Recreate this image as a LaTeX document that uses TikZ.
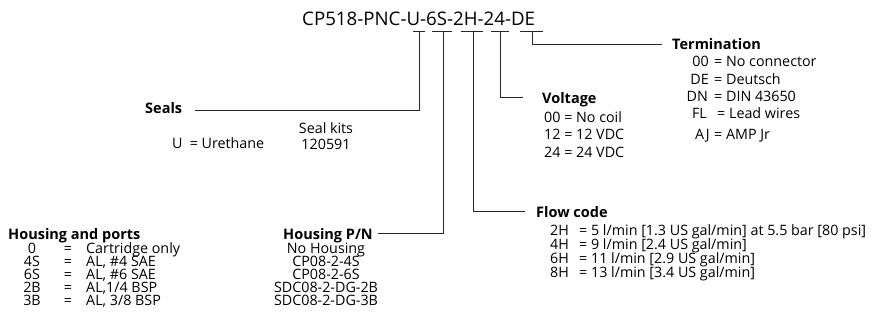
\documentclass[tikz,border=0pt]{standalone}
\usepackage{fontspec}
\setmainfont{Open Sans}
\newcommand{\firstrule}{\rule{0pt}{12pt}}
\newcommand{\bodysize}[1]{\fontsize{14.3}{#1}\selectfont\lineskiplimit=-30pt\relax\lineskip=0pt\relax}
\begin{document}
\begin{tikzpicture}[x=1pt,y=-1pt,
  lbl/.style={inner sep=0pt,anchor=base west,font=\bodysize{16}},
  lblr/.style={inner sep=0pt,anchor=base east,font=\bodysize{16}},
  col/.style={inner sep=0pt,font=\bodysize{#1}},
  hdr/.style={inner sep=0pt,anchor=base west,font=\fontsize{14.5}{17}\selectfont\bfseries},
  conn/.style={line width=0.9pt,black!85}]
\useasboundingbox (0,0) rectangle (876,326);
% title
\node[inner sep=0pt,anchor=base west,font=\fontsize{18.7}{22}\selectfont] (title) at (302,26) {CP518-PNC-U-6S-2H-24-DE};
% bar coordinates
\coordinate (uL) at (413,31); \coordinate (uR) at (425,31); \coordinate (uC) at (419,31);
\coordinate (sL) at (432,31); \coordinate (sR) at (452,31); \coordinate (sC) at (443,31);
\coordinate (hL) at (461,31); \coordinate (hR) at (483,31); \coordinate (hC) at (473,31);
\coordinate (vL) at (491,31); \coordinate (vR) at (509,31); \coordinate (vC) at (500,31);
\coordinate (dL) at (520,31); \coordinate (dR) at (543,31); \coordinate (dC) at (532,31);
\coordinate (sealsEnd) at (195,110);
\coordinate (hpnEnd) at (378,233);
\coordinate (flowEnd) at (525,211);
\coordinate (voltEnd) at (523,97);
\coordinate (termEnd) at (662,44);
\draw[conn] (uL) -- (uR) (sL) -- (sR) (hL) -- (hR) (vL) -- (vR) (dL) -- (dR);
\draw[conn] (uC) |- (sealsEnd);
\draw[conn] (sC) |- (hpnEnd);
\draw[conn] (hC) |- (flowEnd);
\draw[conn] (vC) |- (voltEnd);
\draw[conn] (dC) |- (termEnd);
% Seals
\node[hdr] (seals) at (145,114) {Seals};
\node[lbl] (sealU) at (172,149) {U\enspace= Urethane};
\node[col=16,anchor=north,align=center] (sealkits) at (326,121) {\firstrule Seal kits\\120591};
% Voltage
\node[hdr] (volt) at (542,104) {Voltage};
\node[col=17.5,anchor=north west,align=left] (vrows) at (544,110) {\firstrule 00 = No coil\\12 = 12 VDC\\24 = 24 VDC};
% Termination
\node[hdr] (term) at (672,50) {Termination};
\node[lblr] (t1c) at (709,67) {00}; \node[lbl] (t1) at (714,67) {= No connector};
\node[lblr] (t2c) at (709,85) {DE}; \node[lbl] (t2) at (714,85) {= Deutsch};
\node[lblr] (t3c) at (708,102) {DN}; \node[lbl] (t3) at (714,102) {= DIN 43650};
\node[lblr] (t4c) at (707,119) {FL}; \node[lbl] (t4) at (717,119) {= Lead wires};
\node[lblr] (t5c) at (710,140) {AJ}; \node[lbl] (t5) at (714,140) {= AMP Jr};
% Housing and ports
\node[hdr] (hap) at (8,239) {Housing and ports};
\node[col=13,anchor=north,align=center] (hcodes) at (32,241) {\firstrule 0\\4S\\6S\\2B\\3B};
\node[col=13,anchor=north,align=center] (heq) at (68,241) {\firstrule =\\=\\=\\=\\=};
\node[col=13,anchor=north west,align=left] (htext) at (86,241) {\firstrule Cartridge only\\AL, \#4 SAE\\AL, \#6 SAE\\AL,1/4 BSP\\AL, 3/8 BSP};
% Housing P/N
\node[hdr] (hpn) at (283,239) {Housing P/N};
\node[col=13,anchor=north,align=center] (pn) at (326,241) {\firstrule No Housing\\CP08-2-4S\\CP08-2-6S\\SDC08-2-DG-2B\\SDC08-2-DG-3B};
% Flow code
\node[hdr] (flow) at (536,217) {Flow code};
\node[col=14,anchor=north west,align=left] (fcodes) at (550,223) {\firstrule 2H\\4H\\6H\\8H};
\node[col=14,anchor=north west,align=left] (ftext) at (579,223) {\firstrule = 5 l/min [1.3 US gal/min] at 5.5 bar [80 psi]\\= 9 l/min [2.4 US gal/min]\\= 11 l/min [2.9 US gal/min]\\= 13 l/min [3.4 US gal/min]};
\end{tikzpicture}
\end{document}
